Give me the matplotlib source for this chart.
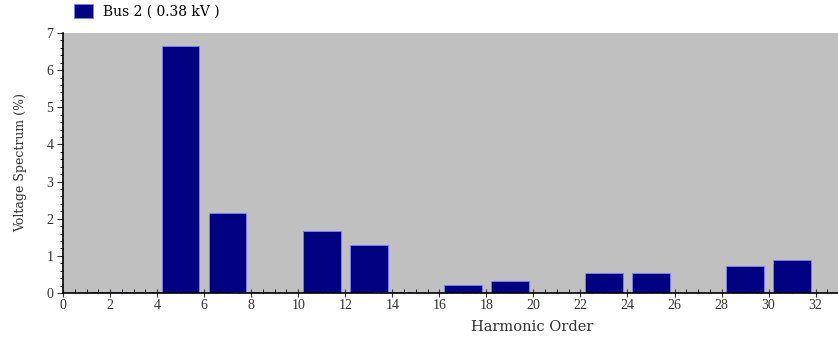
import matplotlib.pyplot as plt
from matplotlib.ticker import MultipleLocator

# harmonic spectrum
harmonics = [2, 3, 4, 5, 7, 8, 11, 13, 14, 17, 19, 23, 25, 29, 31]
spectrum = [0.03, 0.03, 0.03, 6.65, 2.15, 0.03, 1.67, 1.3, 0.03, 0.22, 0.33, 0.55, 0.53, 0.72, 0.88]
series_name = "Bus 2 ( 0.38 kV )"

plt.rcParams['font.family'] = ['Liberation Serif', 'DejaVu Serif']

fig = plt.figure(figsize=(8.38, 3.39), dpi=100)
ax = fig.add_axes([0.0752, 0.1357, 0.9248, 0.767])
ax.set_facecolor("#c0c0c0")

ax.bar(harmonics, spectrum, width=1.6, color="#000080", edgecolor="#8080ff",
       linewidth=0.6, label=series_name, zorder=2)

ax.set_xlim(0, 32.95)
ax.set_ylim(0, 7)
ax.xaxis.set_major_locator(MultipleLocator(2))
ax.xaxis.set_minor_locator(MultipleLocator(0.5))
ax.yaxis.set_major_locator(MultipleLocator(1))
ax.yaxis.set_minor_locator(MultipleLocator(0.2))
ax.tick_params(axis='x', which='major', direction='inout', length=6, labelsize=10, colors='#333333', pad=1)
ax.tick_params(axis='x', which='minor', direction='in', length=3)
ax.tick_params(axis='y', which='major', direction='out', length=4, labelsize=10, colors='#333333', pad=3)
ax.tick_params(axis='y', which='minor', direction='out', length=2)

for s in ['top', 'right']:
    ax.spines[s].set_visible(False)
ax.spines['left'].set_linewidth(1.2)
ax.spines['bottom'].set_linewidth(1.2)

ax.set_xlabel("Harmonic Order", fontsize=10.5, family='DejaVu Serif', color='#333333')
ax.xaxis.set_label_coords(0.605, -0.105)
ax.set_ylabel("Voltage Spectrum (%)", fontsize=9, family='DejaVu Serif', color='#333333')
ax.yaxis.set_label_coords(-0.046, 0.5)

fig.legend(loc='upper left', bbox_to_anchor=(0.073, 1.025), frameon=False,
           handlelength=1.4, handleheight=1.2, handletextpad=0.7,
           prop={'family': 'DejaVu Serif', 'size': 10})

fig.savefig("out.png", dpi=100)
